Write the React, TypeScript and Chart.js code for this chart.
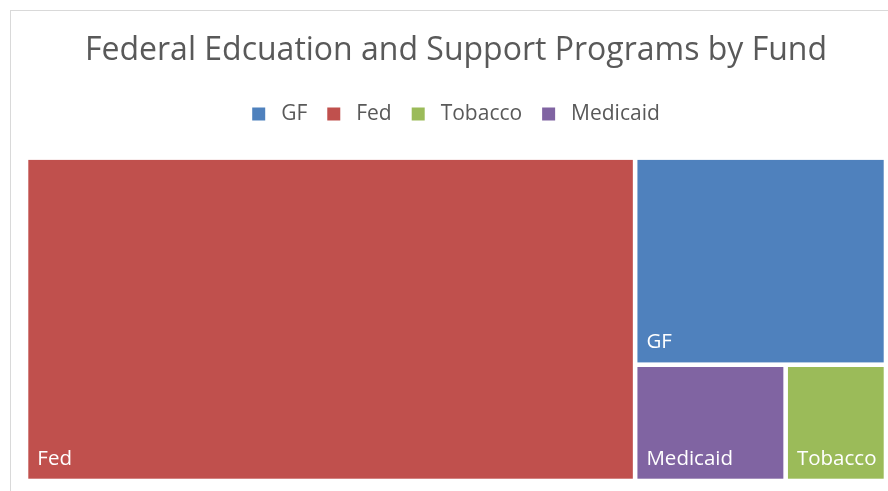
import React, { useEffect, useRef } from 'react';
import { Chart, registerables } from 'chart.js';

Chart.register(...registerables);

const categories = ['GF', 'Fed', 'Tobacco', 'Medicaid'];
const values = [18.7, 70.9, 4.2, 6.3];
const colors = ['#4F81BD', '#C0504D', '#9BBB59', '#8064A2'];
const titleText = 'Federal Edcuation and Support Programs by Fund';

const FONT = '"Open Sans", "DejaVu Sans", sans-serif';

type Item = { label: string; value: number; color: string };
type Rect = Item & { x: number; y: number; w: number; h: number };

function worst(row: number[], side: number): number {
  const sum = row.reduce((a, b) => a + b, 0);
  const max = Math.max(...row);
  const min = Math.min(...row);
  return Math.max((side * side * max) / (sum * sum), (sum * sum) / (side * side * min));
}

function squarify(items: Item[], x: number, y: number, w: number, h: number): Rect[] {
  const out: Rect[] = [];
  let rest = items.slice().sort((a, b) => b.value - a.value);
  while (rest.length) {
    const total = rest.reduce((a, b) => a + b.value, 0);
    const scale = (w * h) / total;
    const areas = rest.map((r) => r.value * scale);
    const side = Math.min(w, h);
    let n = 1;
    while (n < rest.length && worst(areas.slice(0, n + 1), side) <= worst(areas.slice(0, n), side)) n++;
    const rowAreas = areas.slice(0, n);
    const rowSum = rowAreas.reduce((a, b) => a + b, 0);
    if (w >= h) {
      const cw = rowSum / h;
      let cy = y;
      rest.slice(0, n).forEach((it, i) => {
        const ih = rowAreas[i] / cw;
        out.push({ ...it, x, y: cy, w: cw, h: ih });
        cy += ih;
      });
      x += cw;
      w -= cw;
    } else {
      const rh = rowSum / w;
      let cx = x;
      rest.slice(0, n).forEach((it, i) => {
        const iw = rowAreas[i] / rh;
        out.push({ ...it, x: cx, y, w: iw, h: rh });
        cx += iw;
      });
      y += rh;
      h -= rh;
    }
    rest = rest.slice(n);
  }
  return out;
}

const treemapPlugin = {
  id: 'treemapDraw',
  beforeDraw(chart: any) {
    const ctx = chart.ctx;
    ctx.save();
    ctx.fillStyle = '#ffffff';
    ctx.fillRect(0, 0, chart.width, chart.height);
    ctx.strokeStyle = '#d9d9d9';
    ctx.lineWidth = 1;
    ctx.strokeRect(10.5, 10.5, chart.width + 20, chart.height + 20);
    ctx.restore();
  },
  afterDatasetsDraw(chart: any) {
    const xs = chart.scales.x;
    const ys = chart.scales.y;
    const left = xs.getPixelForValue(0);
    const right = xs.getPixelForValue(1);
    const top = ys.getPixelForValue(1);
    const bottom = ys.getPixelForValue(0);
    const items: Item[] = categories.map((c, i) => ({ label: c, value: values[i], color: colors[i] }));
    const rects = squarify(items, left, top, right - left, bottom - top);
    const ctx = chart.ctx;
    const gap = 2.3;
    ctx.save();
    rects.forEach((r) => {
      ctx.fillStyle = r.color;
      ctx.fillRect(r.x + gap, r.y + gap, r.w - 2 * gap, r.h - 2 * gap);
    });
    ctx.fillStyle = '#ffffff';
    ctx.font = `20.5px ${FONT}`;
    ctx.textBaseline = 'alphabetic';
    ctx.textAlign = 'left';
    rects.forEach((r) => {
      ctx.fillText(r.label, r.x + gap + 9, r.y + r.h - gap - 14);
    });
    ctx.restore();
  },
};

export default function App() {
  const ref = useRef<HTMLCanvasElement | null>(null);
  useEffect(() => {
    if (!ref.current) return;
    const chart = new Chart(ref.current, {
      type: 'scatter',
      data: {
        datasets: categories.map((c, i) => ({
          label: c,
          data: [],
          backgroundColor: colors[i],
          borderColor: colors[i],
          borderWidth: 0,
        })),
      },
      options: {
        animation: false,
        responsive: false,
        layout: { padding: { left: 26, right: 2, bottom: 10, top: 0 } },
        scales: {
          x: { type: 'linear', min: 0, max: 1, display: false },
          y: { type: 'linear', min: 0, max: 1, display: false },
        },
        plugins: {
          tooltip: { enabled: false },
          title: {
            display: true,
            text: titleText,
            color: '#595959',
            font: { family: FONT, size: 32, weight: 'normal' },
            padding: { top: 32, bottom: 13 },
          },
          subtitle: {
            display: true,
            text: ' ',
            weight: 500,
            font: { size: 1 },
            padding: { top: 0, bottom: 22 },
          },
          legend: {
            display: true,
            position: 'top',
            labels: {
              boxWidth: 13,
              boxHeight: 13,
              padding: 20,
              color: '#595959',
              font: { family: FONT, size: 21 },
              generateLabels: () =>
                categories.map((c, i) => ({
                  text: ' ' + c,
                  fillStyle: colors[i],
                  strokeStyle: colors[i],
                  lineWidth: 0,
                  hidden: false,
                  datasetIndex: i,
                  fontColor: '#595959',
                })),
            },
          },
        },
      },
      plugins: [treemapPlugin],
    } as any);
    return () => chart.destroy();
  }, []);
  return (
    <div style={{ position: 'absolute', left: 0, top: 0, width: 888, height: 491 }}>
      <canvas ref={ref} width={888} height={491} style={{ display: 'block', width: 888, height: 491 }} />
    </div>
  );
}
